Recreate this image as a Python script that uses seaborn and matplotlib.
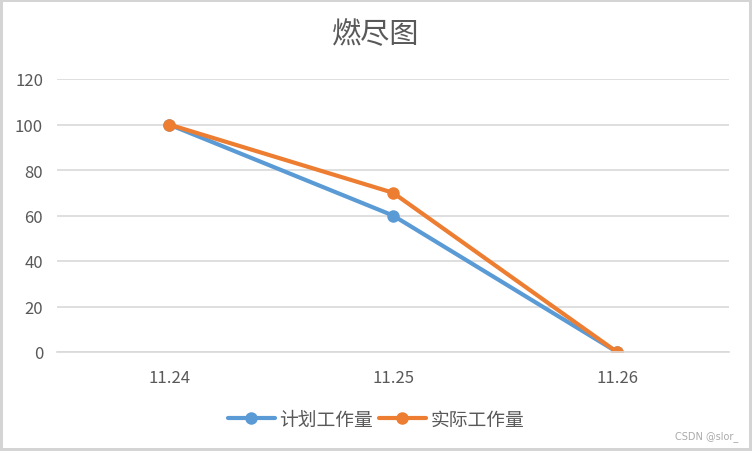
import pandas as pd
import matplotlib
matplotlib.use("Agg")
import matplotlib.pyplot as plt
import seaborn as sns

# data
dates = ["11.24", "11.25", "11.26"]
planned = [100, 60, 0]
actual = [100, 70, 0]
series_names = ["计划工作量", "实际工作量"]
yticks = [0, 20, 40, 60, 80, 100, 120]

sns.set_style("white")
plt.rcParams["font.family"] = ["Noto Sans CJK SC", "DejaVu Sans"]

df = pd.DataFrame({
    "date": dates * 2,
    "value": planned + actual,
    "series": [series_names[0]] * 3 + [series_names[1]] * 3,
})

text_color = "#595959"
grid_color = "#d9d9d9"

fig = plt.figure(figsize=(7.52, 4.52), dpi=100)
fig.patch.set_edgecolor("#d4d4d4")
fig.patch.set_linewidth(3)
ax = fig.add_axes([57 / 752, (452 - 353) / 452, (729 - 57) / 752, (353 - 80) / 452])

sns.lineplot(data=df, x="date", y="value", hue="series",
             palette=["#5B9BD5", "#ED7D31"], marker="o", markersize=9,
             markeredgewidth=0, linewidth=3, sort=False, ax=ax)

ax.set_xlim(-0.5, 2.5)
ax.set_ylim(0, 120)
ax.set_yticks(yticks)
ax.yaxis.grid(True, color=grid_color, linewidth=1.2)
ax.set_axisbelow(True)
for s in ax.spines.values():
    s.set_visible(False)
ax.spines["bottom"].set_visible(True)
ax.spines["bottom"].set_color(grid_color)
ax.spines["bottom"].set_linewidth(1.2)
ax.tick_params(axis="both", length=0, labelsize=12, labelcolor=text_color)
ax.tick_params(axis="y", pad=10)
ax.tick_params(axis="x", pad=12)
ax.set_xlabel("")
ax.set_ylabel("")

fig.text(0.5, 1 - 35 / 452, "燃尽图", ha="center", va="center",
         fontsize=21, color=text_color)

handles, labels = ax.get_legend_handles_labels()
ax.get_legend().remove()
fig.legend(handles, labels, loc="center", bbox_to_anchor=(0.5, 1 - 420 / 452),
           ncol=2, frameon=False, fontsize=13.5, handlelength=2.5,
           columnspacing=0.3, handletextpad=0.25, labelcolor=text_color)

fig.text(1 - 14 / 752, 1 - 437 / 452, "CSDN @slor_", ha="right", va="center",
         fontsize=7, color="#aaaaaa", family=["DejaVu Sans"])

fig.savefig("out.png", dpi=100, edgecolor=fig.get_edgecolor())
